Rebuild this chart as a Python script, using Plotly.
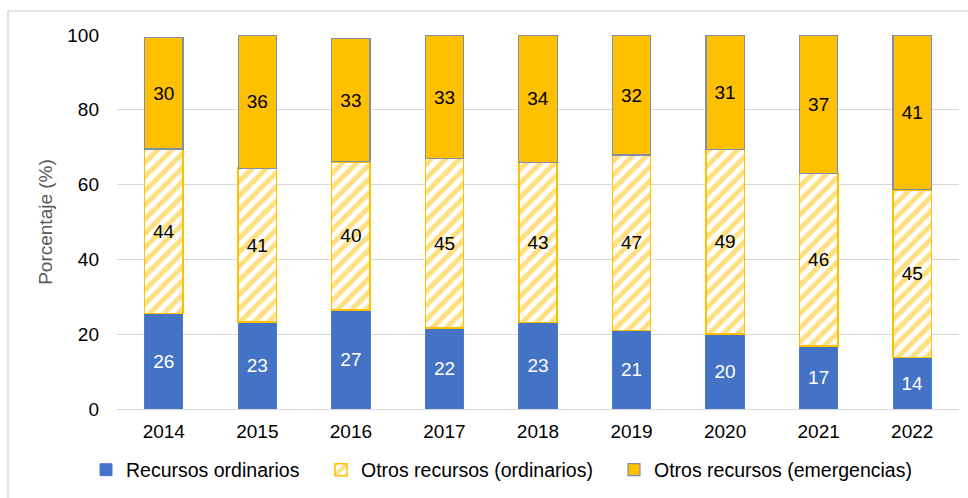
import plotly.graph_objects as go

years = ["2014", "2015", "2016", "2017", "2018", "2019", "2020", "2021", "2022"]
recursos_ordinarios = [25.6, 23.2, 26.5, 21.6, 23.1, 21.0, 20.0, 16.9, 13.8]
otros_ordinarios = [43.9, 41.2, 39.6, 45.4, 42.9, 46.9, 49.4, 46.1, 44.8]
otros_emergencias = [29.8, 35.6, 33.0, 32.8, 33.8, 31.9, 30.6, 37.0, 41.4]

BLUE = "#4472C4"
YELLOW = "#FFC000"
FONT = "Liberation Sans, Arial, sans-serif"
FS = 19
LFS = 19.5

# plot area in page pixels
PL, PR, PT, PB = 117, 959, 35, 409
PW, PH = PR - PL, PB - PT


def px_x(px):
    return (px - PL) / PW


def px_y(py):
    return (PB - py) / PH


fig = go.Figure()
fig.add_trace(go.Bar(
    x=years, y=recursos_ordinarios, name="Recursos ordinarios", legend="legend",
    marker=dict(color=BLUE, line=dict(color="#4A7BD0", width=1)),
    texttemplate="%{y:.0f}", textposition="inside", insidetextanchor="middle",
    textfont=dict(color="white", size=FS, family=FONT), textangle=0,
))
fig.add_trace(go.Bar(
    x=years, y=otros_ordinarios, name="Otros recursos (ordinarios)", legend="legend2",
    marker=dict(color="white", line=dict(color=YELLOW, width=1.5),
                pattern=dict(shape="/", fgcolor=YELLOW, bgcolor="white", size=10, solidity=0.5)),
    texttemplate="%{y:.0f}", textposition="inside", insidetextanchor="middle",
    textfont=dict(color="black", size=FS, family=FONT), textangle=0,
))
fig.add_trace(go.Bar(
    x=years, y=otros_emergencias, name="Otros recursos (emergencias)", legend="legend3",
    marker=dict(color=YELLOW, line=dict(color="#7F8FA6", width=1.2)),
    texttemplate="%{y:.0f}", textposition="inside", insidetextanchor="middle",
    textfont=dict(color="black", size=FS, family=FONT), textangle=0,
))

leg_common = dict(orientation="h", xanchor="left", yanchor="middle", y=px_y(470),
                  font=dict(size=LFS, color="black", family=FONT), bgcolor="rgba(0,0,0,0)")

fig.update_layout(
    barmode="stack",
    bargap=0.59,
    width=968, height=498,
    margin=dict(l=PL, r=968 - PR, t=PT, b=498 - PB, autoexpand=False),
    paper_bgcolor="white", plot_bgcolor="white",
    font=dict(family=FONT, size=FS, color="black"),
    uniformtext=dict(minsize=10, mode="show"),
    showlegend=True,
    legend=dict(x=px_x(127 - 41), **leg_common),
    legend2=dict(x=px_x(362 - 41), **leg_common),
    legend3=dict(x=px_x(655 - 41), **leg_common),
    xaxis=dict(showgrid=False, ticks="", showline=False, ticklabelstandoff=9,
               tickfont=dict(size=FS, color="black")),
    yaxis=dict(range=[0, 100], dtick=20, showgrid=True, gridcolor="#D9D9D9", gridwidth=1,
               zeroline=True, zerolinecolor="#D9D9D9", zerolinewidth=1,
               ticks="", ticklabelstandoff=17,
               tickfont=dict(size=FS, color="black"),
               title=dict(text="Porcentaje (%)", font=dict(size=FS, color="#595959"), standoff=9)),
    shapes=[dict(type="rect", xref="paper", yref="paper", x0=px_x(8), x1=px_x(975),
                 y0=px_y(505), y1=px_y(11),
                 line=dict(color="#D9D9D9", width=1.5), fillcolor="rgba(0,0,0,0)", layer="below")],
)

fig.write_html("out.html", config={"displayModeBar": False},
               post_script="document.body.style.margin='0';")
